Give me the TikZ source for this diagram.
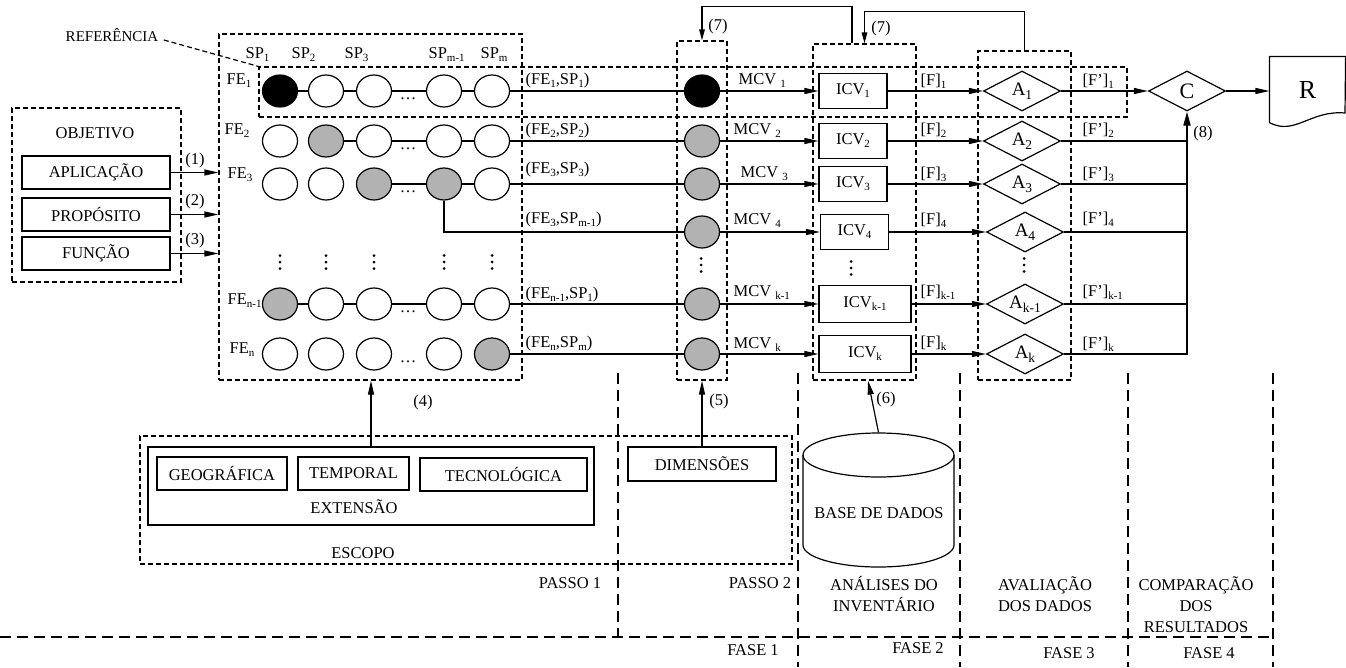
\documentclass[tikz,border=0pt]{standalone}
\usepackage{fontspec}
\setmainfont{Liberation Serif}
\usetikzlibrary{arrows.meta,shapes.geometric}
\definecolor{cgray}{RGB}{178,178,178}
\newcommand\sbs[1]{\raisebox{-3pt}{\fontsize{11}{12}\selectfont #1}}
\newcommand\sbsA[1]{\raisebox{-4pt}{\fontsize{13.5}{14}\selectfont #1}}
\begin{document}
\begin{tikzpicture}[x=1pt,y=-1pt,line width=1.2pt,
  font=\fontsize{16.5}{19}\selectfont,
  circ/.style={ellipse,draw,minimum width=35pt,minimum height=32pt,inner sep=0pt,fill=white},
  gcirc/.style={circ,fill=cgray},
  bcirc/.style={circ,fill=black},
  box/.style={draw,rectangle,inner sep=0pt},
  dsh/.style={dash pattern=on 5pt off 3pt},
  ldsh/.style={dash pattern=on 11pt off 6pt},
  frame/.style={draw,dsh,rectangle,inner sep=0pt},
  dia/.style={diamond,draw,minimum width=77pt,minimum height=40pt,inner sep=0pt,aspect=1.9,font=\fontsize{19}{21}\selectfont},
  arr/.style={-{Triangle[length=14pt,width=6pt]}},
  sarr/.style={-{Triangle[length=11pt,width=5.5pt]}},
  lbl/.style={inner sep=0pt,anchor=base west},
  txt/.style={inner sep=1pt},
  two/.style={inner sep=0pt,align=center,font=\fontsize{16.5}{21}\selectfont}
]
\useasboundingbox (0,0) rectangle (1346,667);

% ---------- dashed frames ----------
\node[frame,minimum width=303pt,minimum height=346pt] (febox) at (370.5,207) {};
\node[frame,minimum width=868pt,minimum height=50pt] (refbox) at (693,92) {};
\node[frame,minimum width=169pt,minimum height=174pt] (objbox) at (96.5,195) {};
\node[frame,minimum width=50pt,minimum height=339pt] (mcvcol) at (702,210.5) {};
\node[frame,minimum width=103pt,minimum height=336pt] (icvcol) at (864.5,212) {};
\node[frame,minimum width=93pt,minimum height=329pt] (acol) at (1024.5,215.5) {};
\node[frame,minimum width=652pt,minimum height=128pt] (escopo) at (466,500) {};

% ---------- phase separators ----------
\draw[ldsh] (0,637) -- (1274,637);
\foreach \x in {798,960,1128,1273} \draw[ldsh] (\x,373) -- (\x,667);
\draw[ldsh] (618,373) -- (618,637);

% ---------- reference label ----------
\node[txt,font=\fontsize{15}{17}\selectfont] (reftxt) at (112,35) {REFERÊNCIA};
\draw[dsh] ([shift={(4,5)}]reftxt.east) -- (refbox.north west);

% ---------- objective ----------
\node[txt] (objtxt) at (95,133) {OBJETIVO};
\node[box,minimum width=148pt,minimum height=33pt] (aplic) at (96,172.5) {APLICAÇÃO};
\node[box,minimum width=148pt,minimum height=33pt] (prop) at (96,214.5) {PROPÓSITO};
\node[box,minimum width=148pt,minimum height=33pt] (func) at (96,253.5) {FUNÇÃO};
\draw[arr] (aplic.east) -- (aplic.east -| febox.west);
\draw[arr] (prop.east) -- (prop.east -| febox.west);
\draw[arr] (func.east) -- (func.east -| febox.west);
\node[txt] (l1) at (195,161) {(1)};
\node[txt] (l2) at (195,202) {(2)};
\node[txt] (l3) at (195,241) {(3)};

% ---------- SP / FE labels ----------
\node[lbl] (sp1) at (245,58) {SP\sbs{1}};
\node[lbl] (sp2) at (291,58) {SP\sbs{2}};
\node[lbl] (sp3) at (344,58) {SP\sbs{3}};
\node[lbl] (spm1) at (428,58) {SP\sbs{m-1}};
\node[lbl] (spm) at (480,58) {SP\sbs{m}};
\node[lbl] (fe1) at (226,84) {FE\sbs{1}};
\node[lbl] (fe2) at (224,134) {FE\sbs{2}};
\node[lbl] (fe3) at (227,178) {FE\sbs{3}};
\node[lbl] (fen1) at (227,304) {FE\sbs{n-1}};
\node[lbl] (fen) at (229,353) {FE\sbs{n}};

% ---------- circle grid ----------
\foreach \c/\x/\s in {1/280/bcirc,2/326/circ,3/374/circ,4/444/circ,5/492/circ}
  \node[\s] (r1c\c) at (\x,91) {};
\foreach \c/\x/\s in {1/280/circ,2/326/gcirc,3/374/circ,4/444/circ,5/492/circ}
  \node[\s] (r2c\c) at (\x,141) {};
\foreach \c/\x/\s in {1/280/circ,2/326/circ,3/374/gcirc,4/444/gcirc,5/492/circ}
  \node[\s] (r3c\c) at (\x,184) {};
\foreach \c/\x/\s in {1/280/gcirc,2/326/circ,3/374/circ,4/444/circ,5/492/circ}
  \node[\s] (r5c\c) at (\x,304) {};
\foreach \c/\x/\s in {1/280/circ,2/326/circ,3/374/circ,4/444/circ,5/492/gcirc}
  \node[\s] (r6c\c) at (\x,354) {};
\draw (r1c1) -- (r1c2) (r1c2) -- (r1c3) (r1c3) -- (r1c4) (r1c4) -- (r1c5);
\draw (r2c2) -- (r2c3) (r2c3) -- (r2c4) (r2c4) -- (r2c5);
\draw (r3c3) -- (r3c4) (r3c4) -- (r3c5);
\draw (r5c1) -- (r5c2) (r5c2) -- (r5c3) (r5c3) -- (r5c4) (r5c4) -- (r5c5);
\foreach \y/\n in {91/1,141/2,184/3,304/5,354/6}
  \node[inner sep=0pt,anchor=base] (dots\n) at (408,\y+8) {\textellipsis};
% vertical ellipses (drawn dots)
\foreach \x/\y in {280/262,326/262,374/262,444/262,492/262,701/265,851/268,1024/265}
  \foreach \d in {-6.5,0,6.5}
    \fill (\x,\y+\d) circle[radius=1.5pt];

% ---------- pair labels ----------
\node[lbl] (p1) at (525,84) {(FE\sbs{1},SP\sbs{1})};
\node[lbl] (p2) at (525,134) {(FE\sbs{2},SP\sbs{2})};
\node[lbl] (p3) at (525,173) {(FE\sbs{3},SP\sbs{3})};
\node[lbl] (p4) at (525,223) {(FE\sbs{3},SP\sbs{m-1})};
\node[lbl] (p5) at (525,298) {(FE\sbs{n-1},SP\sbs{1})};
\node[lbl] (p6) at (525,347) {(FE\sbs{n},SP\sbs{m})};

% ---------- MCV column ----------
\node[bcirc] (m1) at (702,91) {};
\node[gcirc] (m2) at (702,141) {};
\node[gcirc] (m3) at (702,184) {};
\node[gcirc] (m4) at (702,232) {};
\node[gcirc] (m5) at (702,304) {};
\node[gcirc] (m6) at (702,354) {};
\draw (r1c5) -- (m1);
\draw (r2c5) -- (m2);
\draw (r3c5) -- (m3);
\draw (r3c4) |- (m4);
\draw (r5c5) -- (m5);
\draw (r6c5) -- (m6);
\node[lbl] (mc1) at (738,84) {MCV \sbs{1}};
\node[lbl] (mc2) at (733,134) {MCV \sbs{2}};
\node[lbl] (mc3) at (740,177) {MCV \sbs{3}};
\node[lbl] (mc4) at (733,224) {MCV \sbs{4}};
\node[lbl] (mc5) at (733,296) {MCV \sbs{k-1}};
\node[lbl] (mc6) at (733,348) {MCV \sbs{k}};

% ---------- ICV column ----------
\node[box,minimum width=68pt,minimum height=35pt] (icv1) at (853,91) {ICV\sbs{1}};
\node[box,minimum width=68pt,minimum height=35pt] (icv2) at (853,141) {ICV\sbs{2}};
\node[box,minimum width=68pt,minimum height=35pt] (icv3) at (853,184) {ICV\sbs{3}};
\node[box,minimum width=68pt,minimum height=35pt] (icv4) at (854.5,232) {ICV\sbs{4}};
\node[box,minimum width=92pt,minimum height=37pt] (icv5) at (865,304) {ICV\sbs{k-1}};
\node[box,minimum width=92pt,minimum height=37pt] (icv6) at (865,354) {ICV\sbs{k}};
\foreach \i in {1,...,6} \draw[arr] (m\i) -- (icv\i);
\node[lbl] (f1) at (920,85) {[F]\sbs{1}};
\node[lbl] (f2) at (920,134) {[F]\sbs{2}};
\node[lbl] (f3) at (920,178) {[F]\sbs{3}};
\node[lbl] (f4) at (920,224) {[F]\sbs{4}};
\node[lbl] (f5) at (920,296) {[F]\sbs{k-1}};
\node[lbl] (f6) at (920,347) {[F]\sbs{k}};

% ---------- A column ----------
\node[dia] (a1) at (1022,91) {A\sbsA{1}};
\node[dia] (a2) at (1022,141) {A\sbsA{2}};
\node[dia] (a3) at (1022,184) {A\sbsA{3}};
\node[dia] (a4) at (1025,232) {A\sbsA{4}};
\node[dia] (a5) at (1025,304) {A\sbsA{k-1}};
\node[dia] (a6) at (1025,354) {A\sbsA{k}};
\foreach \i in {1,...,6} \draw[arr] (icv\i) -- (a\i);
\node[lbl] (g1) at (1082,85) {[F’]\sbs{1}};
\node[lbl] (g2) at (1082,134) {[F’]\sbs{2}};
\node[lbl] (g3) at (1082,178) {[F’]\sbs{3}};
\node[lbl] (g4) at (1082,223) {[F’]\sbs{4}};
\node[lbl] (g5) at (1082,296) {[F’]\sbs{k-1}};
\node[lbl] (g6) at (1082,348) {[F’]\sbs{k}};

% ---------- comparison and result ----------
\node[dia,font=\fontsize{22}{24}\selectfont] (C) at (1187,91) {C};
\draw[arr] (a1) -- (C);
\foreach \i in {2,...,5} \draw (a\i.east) -- (a\i.east -| C.south);
\draw[-{Triangle[length=14pt,width=7pt]},line width=1.8pt] (a6.east) -| (C.south);
\node[txt] (l8) at (1203,134) {(8)};
\node[inner sep=0pt,minimum width=75pt,minimum height=65pt,font=\fontsize{26}{28}\selectfont] (R) at (1307.5,89.5) {R};
\draw (R.south west) -- (R.north west) -- (R.north east) -- (1345,113)
  .. controls (1310,110) and (1295,136) .. (R.south west);
\draw[arr] (C) -- (C -| R.west);

% ---------- feedback (7) ----------
\draw[sarr] ([xshift=-12.5pt]icvcol.north) -- ++(0,-37) -| (mcvcol.north);
\draw[sarr] (acol.north) -- ++(0,-39) -| (icvcol.north);
\node[txt] (l7a) at (718,27) {(7)};
\node[txt] (l7b) at (881,29) {(7)};

% ---------- scope ----------
\node[box,minimum width=446pt,minimum height=78pt] (ext) at (371,486) {};
\node[box,minimum width=130pt,minimum height=33pt] (geo) at (222,473.5) {GEOGRÁFICA};
\node[box,minimum width=111pt,minimum height=33pt] (temp) at (353.5,473.5) {TEMPORAL};
\node[box,minimum width=167pt,minimum height=33pt] (tec) at (503.5,474.5) {TECNOLÓGICA};
\node[txt] (exttxt) at (354,507) {EXTENSÃO};
\node[txt] (esctxt) at (363,553) {ESCOPO};
\node[box,minimum width=148pt,minimum height=34pt] (dim) at (702,464) {DIMENSÕES};
\draw[arr] (ext.north) -- (ext.north |- febox.south);
\node[txt] (l4) at (423,403) {(4)};
\draw[arr] (dim.north) -- (mcvcol.south);
\node[txt] (l5) at (719,402) {(5)};

% ---------- database ----------
\node[inner sep=0pt,minimum width=151pt,minimum height=135pt] (db) at (878.5,500.5) {};
\draw[fill=white] (878.5,455) ellipse [x radius=75.5pt, y radius=22pt];
\draw (803,455) -- (803,545) arc[start angle=180,end angle=360,x radius=75.5pt,y radius=22pt] -- (954,455);
\node[txt] (dbtxt) at (879,513) {BASE DE DADOS};
\draw[arr] (db.north) -- ([xshift=3.5pt]icvcol.south);
\node[txt] (l6) at (886,400) {(6)};

% ---------- step / phase labels ----------
\node[txt] (passo1) at (570,583) {PASSO 1};
\node[txt] (passo2) at (760,583) {PASSO 2};
\node[two] (ph2t) at (884,594) {ANÁLISES DO\\INVENTÁRIO};
\node[two] (ph3t) at (1045,594) {AVALIAÇÃO\\DOS DADOS};
\node[two] (ph4t) at (1196,605) {COMPARAÇÃO\\DOS\\RESULTADOS};
\node[txt] (fase1) at (753,650) {FASE 1};
\node[txt] (fase2) at (918,648) {FASE 2};
\node[txt] (fase3) at (1069,653) {FASE 3};
\node[txt] (fase4) at (1209,653) {FASE 4};
\end{tikzpicture}
\end{document}
